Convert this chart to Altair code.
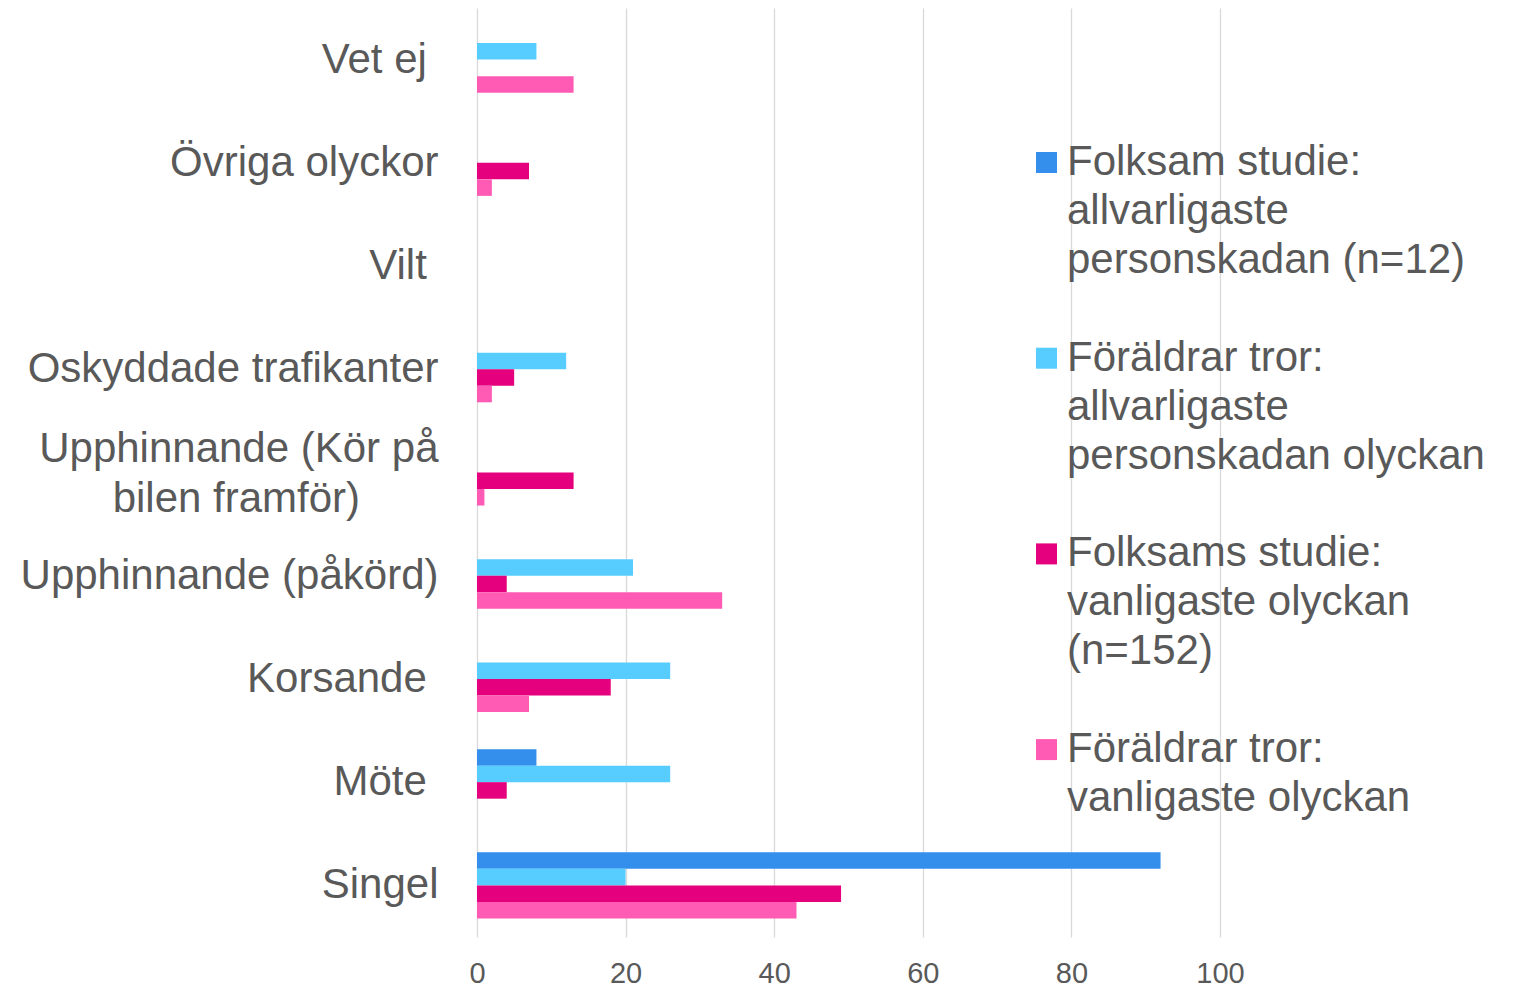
import altair as alt
import pandas as pd

categories = [
    "Vet ej",
    "Övriga olyckor",
    "Vilt",
    "Oskyddade trafikanter",
    "Upphinnande (Kör på bilen framför)",
    "Upphinnande (påkörd)",
    "Korsande",
    "Möte",
    "Singel",
]

legend_lines = [
    ["Folksam studie:", "allvarligaste", "personskadan (n=12)"],
    ["Föräldrar tror:", "allvarligaste", "personskadan olyckan"],
    ["Folksams studie:", "vanligaste olyckan", "(n=152)"],
    ["Föräldrar tror:", "vanligaste olyckan"],
]
series = [" ".join(l) for l in legend_lines]
colors = ["#338FEB", "#57CCFF", "#E5007D", "#FF5AB4"]

folksam_allvarligaste = [0, 0, 0, 0, 0, 0, 0, 8, 92]
foraldrar_allvarligaste = [8, 0, 0, 12, 0, 21, 26, 26, 20]
folksam_vanligaste = [0, 7, 0, 5, 13, 4, 18, 4, 49]
foraldrar_vanligaste = [13, 2, 0, 2, 1, 33, 7, 0, 43]

values = [folksam_allvarligaste, foraldrar_allvarligaste, folksam_vanligaste, foraldrar_vanligaste]

x_ticks = [0, 20, 40, 60, 80, 100]

rows = []
for s, vals in zip(series, values):
    for c, v in zip(categories, vals):
        rows.append({"cat": c, "series": s, "value": v})
df = pd.DataFrame(rows)

leg_sq = pd.DataFrame({"series": series, "entry": list(range(len(series)))})
leg_txt = pd.DataFrame(
    [{"series": series[i], "entry": i, "line": j, "text": t}
     for i, lines in enumerate(legend_lines) for j, t in enumerate(lines)]
)

GRAY = "#595959"
FONT = "Liberation Sans"
NB = "\u00a0"
ZW = "\u200b"
WRAPPED = "Upphinnande (Kör på bilen framför)"

label_expr = (
    f"datum.label == '{WRAPPED}' ? "
    f"['Upphinnande (Kör på', 'bilen framför){NB*6}\u2009{ZW}'] : "
    "(indexof(['Vet ej','Vilt','Korsande','Möte'], datum.label) >= 0 ? "
    f"datum.label + '{NB}{ZW}' : datum.label)"
)

color_scale = alt.Scale(domain=series, range=colors)

bars = alt.Chart(df).mark_bar().encode(
    y=alt.Y("cat:N", sort=categories, title=None,
            scale=alt.Scale(paddingInner=0.36, paddingOuter=0.18),
            axis=alt.Axis(labelExpr=label_expr, labelFontSize=42, labelFont=FONT,
                          labelColor=GRAY, labelPadding=39, labelLimit=0,
                          labelLineHeight=50,
                          labelOffset={"condition": {"test": f"datum.value == '{WRAPPED}'",
                                                     "value": -24},
                                       "value": 0},
                          ticks=False, domain=False, grid=False)),
    yOffset=alt.YOffset("series:N", sort=series, scale=alt.Scale(paddingInner=0, paddingOuter=0)),
    x=alt.X("value:Q", title=None,
            scale=alt.Scale(domain=[0, 100], nice=False),
            axis=alt.Axis(values=x_ticks, labelFontSize=29, labelFont=FONT,
                          labelColor=GRAY, labelPadding=22, labelFlush=False,
                          ticks=False, domain=False,
                          grid=True, gridColor="#D9D9D9", gridWidth=1.3)),
    color=alt.Color("series:N", scale=color_scale, legend=None),
)

squares = alt.Chart(leg_sq).mark_square(size=441, opacity=1).transform_calculate(
    py="154.5 + datum.entry * 195.7"
).encode(
    x=alt.value(569.5),
    y=alt.Y("py:Q", scale=None, axis=None),
    color=alt.Color("series:N", scale=color_scale, legend=None),
)

texts = alt.Chart(leg_txt).mark_text(
    align="left", baseline="alphabetic", fontSize=42, font=FONT, color=GRAY
).transform_calculate(
    py="167 + datum.entry * 195.7 + datum.line * 49"
).encode(
    x=alt.value(590),
    y=alt.Y("py:Q", scale=None, axis=None),
    text="text:N",
)

chart = alt.layer(bars, squares, texts).resolve_scale(
    y="independent"
).properties(
    width=743, height=929,
    padding={"left": 12, "top": 0, "right": 5, "bottom": 0},
).configure_view(stroke=None)

chart.save("out.html", embed_options={"renderer": "svg", "actions": False})
